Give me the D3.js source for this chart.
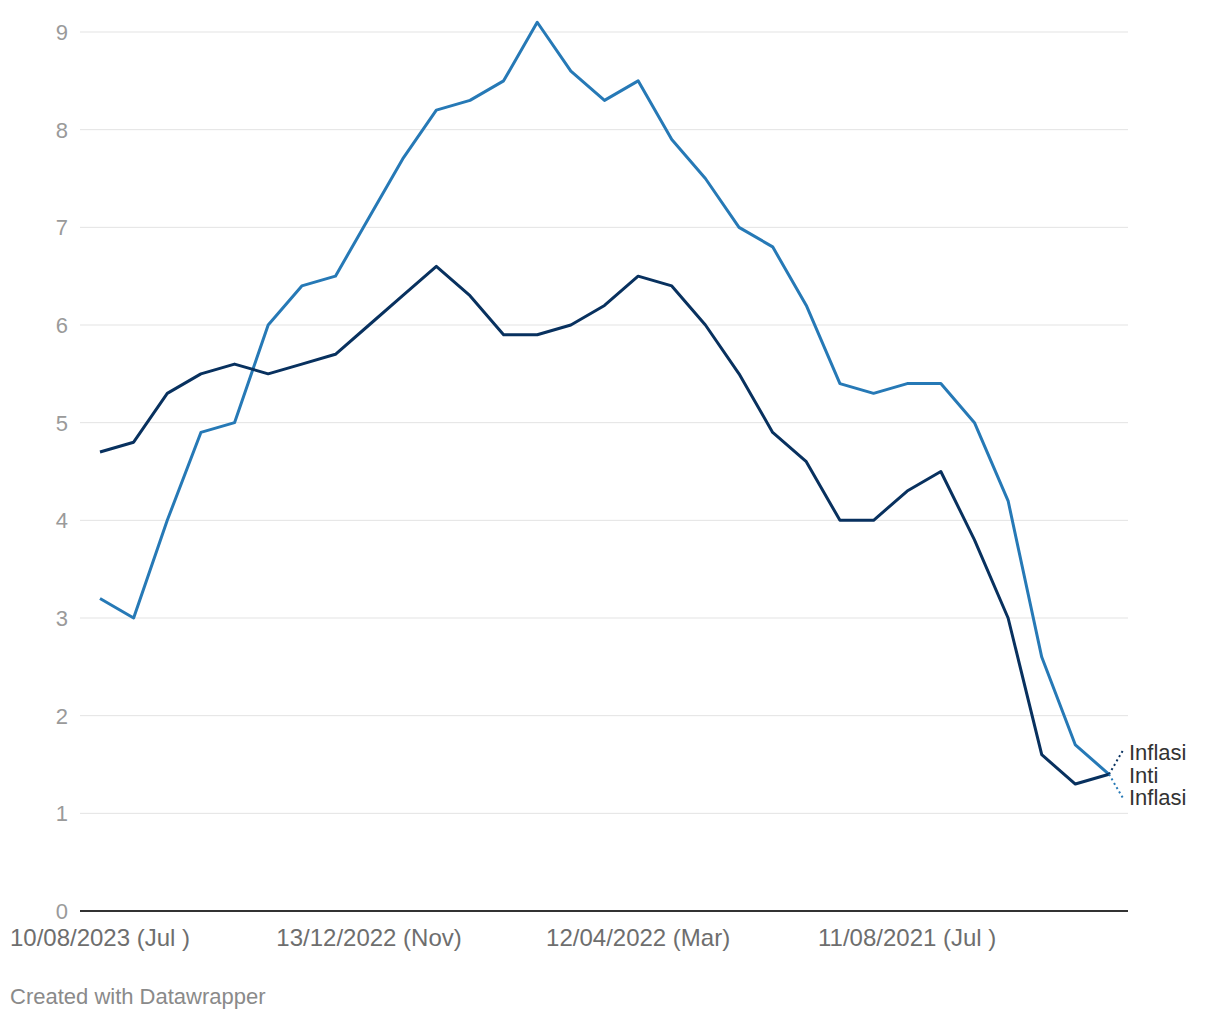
<!DOCTYPE html>
<html>
<head>
<meta charset="utf-8">
<script src="https://d3js.org/d3.v7.min.js"></script>
<style>
  body { margin: 0; background: #fff; font-family: "Liberation Sans", Arial, sans-serif; }
  .grid line { stroke: #e3e3e3; stroke-width: 1px; }
  .ylab { fill: #9a9a9a; font-size: 22px; }
  .xlab { fill: #6e6e6e; font-size: 24px; }
  .series { fill: none; stroke-width: 3px; stroke-linejoin: round; }
  .lbl { fill: #333; font-size: 22px; }
</style>
</head>
<body>
<div id="chart"></div>
<script>
// months, newest first (Jul 2023 back to Jan 2021)
var months = ["Jul 2023","Jun 2023","Mei 2023","Apr 2023","Mar 2023","Feb 2023","Jan 2023","Des 2022",
              "Nov 2022","Okt 2022","Sep 2022","Agu 2022","Jul 2022","Jun 2022","Mei 2022","Apr 2022",
              "Mar 2022","Feb 2022","Jan 2022","Des 2021","Nov 2021","Okt 2021","Sep 2021","Agu 2021",
              "Jul 2021","Jun 2021","Mei 2021","Apr 2021","Mar 2021","Feb 2021","Jan 2021"];

var inflasi = [3.2, 3.0, 4.0, 4.9, 5.0, 6.0, 6.4, 6.5, 7.1, 7.7, 8.2, 8.3, 8.5, 9.1, 8.6, 8.3,
               8.5, 7.9, 7.5, 7.0, 6.8, 6.2, 5.4, 5.3, 5.4, 5.4, 5.0, 4.2, 2.6, 1.7, 1.4];

var inflasiInti = [4.7, 4.8, 5.3, 5.5, 5.6, 5.5, 5.6, 5.7, 6.0, 6.3, 6.6, 6.3, 5.9, 5.9, 6.0, 6.2,
                   6.5, 6.4, 6.0, 5.5, 4.9, 4.6, 4.0, 4.0, 4.3, 4.5, 3.8, 3.0, 1.6, 1.3, 1.4];

var yTicks = [0, 1, 2, 3, 4, 5, 6, 7, 8, 9];

var xTickLabels = [
  {month: "Jul 2023", text: "10/08/2023 (Jul )"},
  {month: "Nov 2022", text: "13/12/2022 (Nov)"},
  {month: "Mar 2022", text: "12/04/2022 (Mar)"},
  {month: "Jul 2021", text: "11/08/2021 (Jul )"}
];

var W = 1220, H = 1020;
var plotLeft = 80, plotRight = 1128, plotTop = 32, plotBottom = 911;

var svg = d3.select("#chart").append("svg")
  .attr("width", W)
  .attr("height", H);

var x = d3.scalePoint().domain(months).range([100, 1109]);
var y = d3.scaleLinear().domain([0, 9]).range([plotBottom, plotTop]);

// grid lines
svg.append("g")
  .attr("class", "grid")
  .selectAll("line")
  .data(yTicks.filter(function(d) { return d > 0; }))
  .enter().append("line")
  .attr("x1", plotLeft)
  .attr("x2", plotRight)
  .attr("y1", function(d) { return y(d); })
  .attr("y2", function(d) { return y(d); });

// y labels
svg.append("g")
  .selectAll("text")
  .data(yTicks)
  .enter().append("text")
  .attr("class", "ylab")
  .attr("x", 68)
  .attr("y", function(d) { return y(d); })
  .attr("dy", "0.36em")
  .attr("text-anchor", "end")
  .text(function(d) { return d; });

// baseline
svg.append("line")
  .attr("x1", plotLeft).attr("x2", plotRight)
  .attr("y1", y(0)).attr("y2", y(0))
  .attr("stroke", "#333")
  .attr("stroke-width", 2);

// x labels
svg.append("g")
  .selectAll("text")
  .data(xTickLabels)
  .enter().append("text")
  .attr("class", "xlab")
  .attr("x", function(d) { return x(d.month); })
  .attr("y", plotBottom + 35)
  .attr("text-anchor", "middle")
  .text(function(d) { return d.text; });

var line = d3.line()
  .x(function(d, i) { return x(months[i]); })
  .y(function(d) { return y(d); });

svg.append("path")
  .datum(inflasi)
  .attr("class", "series")
  .attr("stroke", "#2679b6")
  .attr("d", line);

svg.append("path")
  .datum(inflasiInti)
  .attr("class", "series")
  .attr("stroke", "#08315f")
  .attr("d", line);

// end labels with dotted connectors
var last = months.length - 1;
var ex = x(months[last]);

svg.append("line")
  .attr("x1", ex).attr("y1", y(inflasiInti[last]))
  .attr("x2", ex + 14).attr("y2", y(inflasiInti[last]) - 24)
  .attr("stroke", "#08315f").attr("stroke-width", 2)
  .attr("stroke-dasharray", "2,3");

svg.append("line")
  .attr("x1", ex).attr("y1", y(inflasi[last]))
  .attr("x2", ex + 14).attr("y2", y(inflasi[last]) + 24)
  .attr("stroke", "#2679b6").attr("stroke-width", 2)
  .attr("stroke-dasharray", "2,3");

var t1 = svg.append("text")
  .attr("class", "lbl")
  .attr("x", ex + 20)
  .attr("y", y(inflasiInti[last]) - 22)
  .attr("dy", "0.35em");
t1.append("tspan").attr("x", ex + 20).text("Inflasi");
t1.append("tspan").attr("x", ex + 20).attr("dy", "1.03em").text("Inti");

svg.append("text")
  .attr("class", "lbl")
  .attr("x", ex + 20)
  .attr("y", y(inflasi[last]) + 23)
  .attr("dy", "0.35em")
  .text("Inflasi");

// footer
svg.append("text")
  .attr("x", 10)
  .attr("y", 1004)
  .attr("fill", "#8a8a8a")
  .style("font-size", "22px")
  .text("Created with Datawrapper");
</script>
</body>
</html>
